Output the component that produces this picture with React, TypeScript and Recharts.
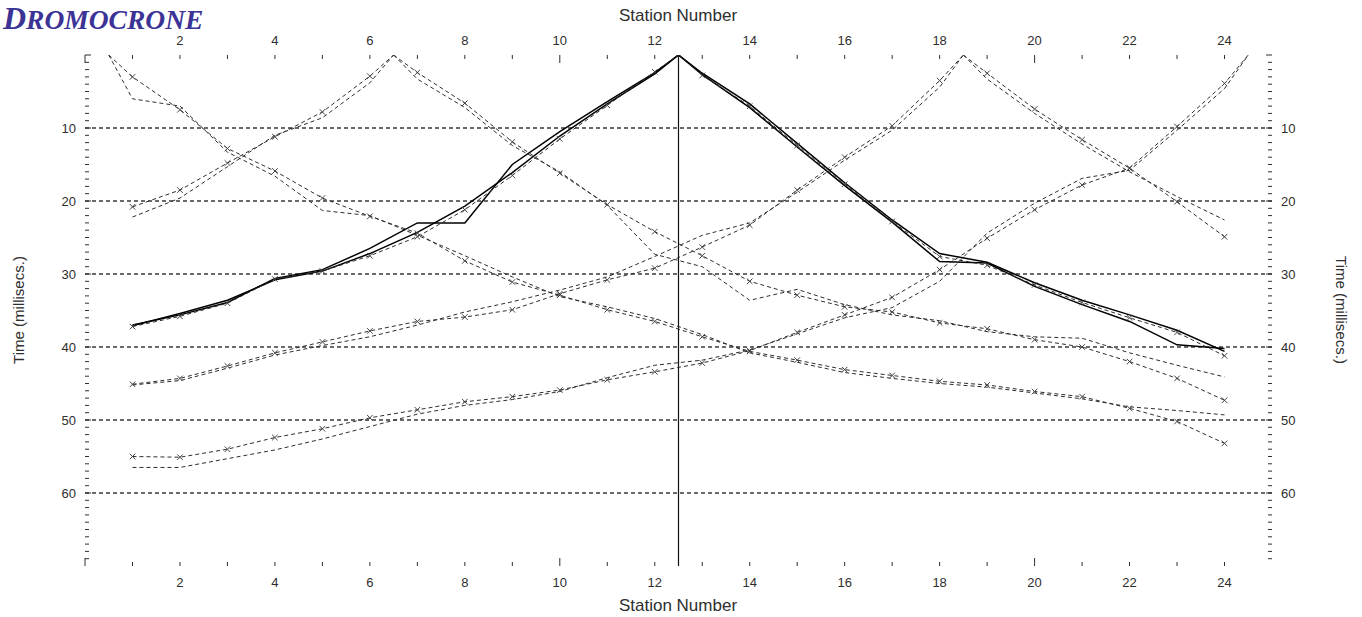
import { ComposedChart, Line, ReferenceLine, XAxis, YAxis } from "recharts"

// station numbers and shot (source) positions
const stations = [1, 2, 3, 4, 5, 6, 7, 8, 9, 10, 11, 12, 13, 14, 15, 16, 17, 18, 19, 20, 21, 22, 23, 24]
const shots = [0.5, 6.5, 12.5, 18.5, 24.5]

const stationTicks = [0, 1, 2, 3, 4, 5, 6, 7, 8, 9, 10, 11, 12, 13, 14, 15, 16, 17, 18, 19, 20, 21, 22, 23, 24]
const stationLabels = [2, 4, 6, 8, 10, 12, 14, 16, 18, 20, 22, 24]
const timeTicks = Array.from({ length: 70 }, (_, i) => i)
const timeLabels = [10, 20, 30, 40, 50, 60]

// travel times (ms), observed picks (x markers) and computed curves
const s05RightObs = [3.0, 7.5, 12.8, 15.9, 19.6, 22.1, 24.4, 28.2, 31.1, 32.9, 34.9, 36.5, 38.6, 40.6, 41.8, 43.1, 43.9, 44.7, 45.2, 46.1, 46.8, 48.4, 50.2, 53.2]
const s05RightCalc = [6.0, 7.0, 13.3, 16.6, 21.3, 22.0, 24.7, 27.5, 30.4, 33.1, 34.5, 36.1, 38.3, 40.8, 42.1, 43.5, 44.3, 45.0, 45.5, 46.3, 47.1, 48.2, 48.7, 49.3]

const s65LeftObs = [20.8, 18.5, 14.8, 11.2, 7.8, 2.9]
const s65LeftCalc = [22.2, 19.6, 15.3, 11.0, 8.6, 3.8]
const s65RightObs = [2.4, 6.6, 11.9, 16.2, 20.5, 24.2, 27.5, 31.0, 32.9, 34.5, 35.2, 36.7, 37.5, 39.0, 40.0, 42.0, 44.3, 47.3]
const s65RightCalc = [3.3, 7.2, 12.4, 16.0, 20.6, 27.3, 29.0, 33.6, 32.1, 34.2, 35.6, 36.4, 37.9, 38.6, 38.8, 40.8, 42.5, 44.1]

const s125LeftObs = [37.2, 35.8, 34.0, 30.7, 29.6, 27.5, 24.9, 21.2, 16.5, 11.5, 6.9, 2.3]
const s125LeftA = [37.1, 35.4, 33.6, 30.8, 29.6, 27.2, 24.3, 20.7, 16.1, 11.1, 6.7, 2.6]
const s125LeftB = [37.0, 35.6, 33.9, 30.6, 29.4, 26.5, 23.0, 23.0, 15.0, 10.5, 6.4, 2.4]
const s125RightObs = [2.8, 7.0, 12.4, 17.7, 22.8, 27.6, 28.8, 31.5, 33.9, 36.0, 38.0, 41.2]
const s125RightA = [2.5, 6.7, 12.1, 17.5, 22.6, 27.2, 28.4, 31.2, 33.6, 35.6, 37.7, 40.6]
const s125RightB = [2.7, 7.2, 12.6, 17.9, 22.9, 28.3, 28.5, 31.7, 34.2, 36.5, 39.7, 40.2]

const s185LeftObs = [45.1, 44.3, 42.6, 40.8, 39.3, 37.8, 36.5, 35.9, 34.9, 32.7, 30.8, 29.2, 26.3, 23.3, 18.5, 14.0, 9.7, 3.5]
const s185LeftCalc = [45.2, 44.6, 42.9, 41.1, 39.8, 38.6, 37.0, 35.2, 33.8, 32.2, 30.4, 27.6, 24.7, 23.0, 18.8, 14.4, 10.3, 4.4]
const s185RightObs = [2.5, 7.4, 11.6, 15.5, 20.1, 24.9]
const s185RightCalc = [3.3, 8.0, 12.2, 16.0, 19.4, 22.6]

const s245LeftObs = [55.0, 55.1, 54.0, 52.4, 51.2, 49.7, 48.6, 47.5, 46.8, 45.9, 44.5, 43.4, 42.2, 40.5, 38.0, 35.6, 33.2, 29.4, 25.1, 21.2, 17.8, 15.5, 9.8, 3.9]
const s245LeftCalc = [56.5, 56.5, 55.3, 54.1, 52.6, 50.9, 49.2, 48.0, 47.2, 46.1, 44.2, 42.5, 41.8, 40.4, 38.2, 36.0, 34.6, 31.0, 24.4, 20.3, 16.9, 15.8, 10.3, 4.6]

type Pt = { x: number; t: number; src?: boolean }

// a branch runs from the shot point (t = 0) out to the stations on one side
function leftBranch(shot: number, vals: number[]): Pt[] {
  const pts: Pt[] = stations.filter((s) => s < shot).map((s, i) => ({ x: s, t: vals[i] }))
  return [...pts, { x: shot, t: 0, src: true }]
}
function rightBranch(shot: number, vals: number[]): Pt[] {
  const pts: Pt[] = stations.filter((s) => s > shot).map((s, i) => ({ x: s, t: vals[i] }))
  return [{ x: shot, t: 0, src: true }, ...pts]
}

const observed = [
  rightBranch(shots[0], s05RightObs),
  leftBranch(shots[1], s65LeftObs),
  rightBranch(shots[1], s65RightObs),
  leftBranch(shots[2], s125LeftObs),
  rightBranch(shots[2], s125RightObs),
  leftBranch(shots[3], s185LeftObs),
  rightBranch(shots[3], s185RightObs),
  leftBranch(shots[4], s245LeftObs),
]
const computed = [
  rightBranch(shots[0], s05RightCalc),
  leftBranch(shots[1], s65LeftCalc),
  rightBranch(shots[1], s65RightCalc),
  leftBranch(shots[3], s185LeftCalc),
  rightBranch(shots[3], s185RightCalc),
  leftBranch(shots[4], s245LeftCalc),
]
const centre = [
  leftBranch(shots[2], s125LeftA),
  leftBranch(shots[2], s125LeftB),
  rightBranch(shots[2], s125RightA),
  rightBranch(shots[2], s125RightB),
]

const INK = "#2e2e2e"
const FONT = '"Liberation Sans", Arial, sans-serif'

function Cross(props: any) {
  const { cx, cy, payload, index } = props
  if (payload.src || cx == null) return <g key={index} />
  const r = 2.8
  return (
    <path
      key={index}
      d={`M${cx - r},${cy - r}L${cx + r},${cy + r}M${cx - r},${cy + r}L${cx + r},${cy - r}`}
      stroke="#444"
      strokeWidth={1}
      fill="none"
    />
  )
}

function StationTick(props: any) {
  const { x, y, payload, side } = props
  const v = payload.value
  const len = v % 10 === 0 ? 8 : 4
  const dir = side === "top" ? 1 : -1
  return (
    <g>
      <line x1={x} x2={x} y1={y} y2={y + dir * len} stroke={INK} strokeWidth={1} />
      {stationLabels.includes(v) && (
        <text
          x={x}
          y={side === "top" ? y - 15 : y + 16}
          textAnchor="middle"
          dominantBaseline="central"
          fontFamily={FONT}
          fontSize={13}
          fill={INK}
        >
          {v}
        </text>
      )}
    </g>
  )
}

function TimeTick(props: any) {
  const { x, y, payload, side } = props
  const v = payload.value
  const len = v % 10 === 0 ? 6 : 4
  const dir = side === "left" ? 1 : -1
  return (
    <g>
      <line x1={x} x2={x + dir * len} y1={y} y2={y} stroke={INK} strokeWidth={1} />
      {timeLabels.includes(v) && (
        <text
          x={side === "left" ? x - 9 : x + 9}
          y={y}
          textAnchor={side === "left" ? "end" : "start"}
          dominantBaseline="central"
          fontFamily={FONT}
          fontSize={13}
          fill={INK}
        >
          {v}
        </text>
      )}
    </g>
  )
}

export default function App() {
  return (
    <div style={{ position: "absolute", left: 0, top: 0, width: 1362, height: 617, background: "#fff" }}>
      <ComposedChart width={1362} height={617} margin={{ top: 0, right: 0, bottom: 0, left: 0 }}>
        <XAxis
          xAxisId="bottom"
          type="number"
          dataKey="x"
          domain={[0, 25]}
          ticks={stationTicks}
          interval={0}
          allowDataOverflow
          orientation="bottom"
          height={51}
          axisLine={false}
          tickLine={false}
          tickSize={0}
          tickMargin={0}
          tick={(p: any) => <StationTick {...p} side="bottom" />}
        />
        <XAxis
          xAxisId="top"
          type="number"
          dataKey="x"
          domain={[0, 25]}
          ticks={stationTicks}
          interval={0}
          allowDataOverflow
          orientation="top"
          height={55}
          axisLine={false}
          tickLine={false}
          tickSize={0}
          tickMargin={0}
          tick={(p: any) => <StationTick {...p} side="top" />}
        />
        <YAxis
          yAxisId="left"
          type="number"
          dataKey="t"
          domain={[0, 70]}
          reversed
          ticks={timeTicks}
          interval={0}
          allowDataOverflow
          width={85}
          axisLine={false}
          tickLine={false}
          tickSize={0}
          tickMargin={0}
          tick={(p: any) => <TimeTick {...p} side="left" />}
        />
        <YAxis
          yAxisId="right"
          orientation="right"
          type="number"
          domain={[0, 70]}
          reversed
          ticks={timeTicks}
          interval={0}
          allowDataOverflow
          width={90}
          axisLine={false}
          tickLine={false}
          tickSize={0}
          tickMargin={0}
          tick={(p: any) => <TimeTick {...p} side="right" />}
        />

        {timeLabels.map((v) => (
          <ReferenceLine
            key={`g${v}`}
            xAxisId="bottom"
            yAxisId="left"
            y={v}
            stroke="#3a3a3a"
            strokeWidth={1.5}
            strokeDasharray="4 3"
          />
        ))}
        <ReferenceLine xAxisId="top" yAxisId="left" x={shots[2]} stroke="#111" strokeWidth={1.2} />

        {computed.map((d, i) => (
          <Line
            key={`c${i}`}
            xAxisId="top"
            yAxisId="left"
            data={d}
            dataKey="t"
            type="linear"
            stroke={INK}
            strokeWidth={1}
            strokeDasharray="4 3"
            dot={false}
            activeDot={false}
            isAnimationActive={false}
          />
        ))}
        {centre.map((d, i) => (
          <Line
            key={`s${i}`}
            xAxisId="bottom"
            yAxisId="left"
            data={d}
            dataKey="t"
            type="linear"
            stroke="#000"
            strokeWidth={1.5}
            dot={false}
            activeDot={false}
            isAnimationActive={false}
          />
        ))}
        {observed.map((d, i) => (
          <Line
            key={`o${i}`}
            xAxisId="bottom"
            yAxisId="left"
            data={d}
            dataKey="t"
            type="linear"
            stroke={INK}
            strokeWidth={1}
            strokeDasharray="4 3"
            dot={Cross}
            activeDot={false}
            isAnimationActive={false}
          />
        ))}
      </ComposedChart>

      <svg width={1362} height={617} style={{ position: "absolute", left: 0, top: 0, pointerEvents: "none" }}>
        <text x={678} y={15} textAnchor="middle" dominantBaseline="central" fontFamily={FONT} fontSize={17} fill={INK}>
          Station Number
        </text>
        <text x={678} y={605} textAnchor="middle" dominantBaseline="central" fontFamily={FONT} fontSize={17} fill={INK}>
          Station Number
        </text>
        <text
          x={18}
          y={310}
          transform="rotate(-90 18 310)"
          textAnchor="middle"
          dominantBaseline="central"
          fontFamily={FONT}
          fontSize={15}
          fill={INK}
        >
          Time (millisecs.)
        </text>
        <text
          x={1341}
          y={310}
          transform="rotate(90 1341 310)"
          textAnchor="middle"
          dominantBaseline="central"
          fontFamily={FONT}
          fontSize={15}
          fill={INK}
        >
          Time (millisecs.)
        </text>
      </svg>

      <div
        style={{
          position: "absolute",
          left: 3,
          top: 0,
          fontFamily: '"Liberation Serif", "Times New Roman", serif',
          fontWeight: "bold",
          fontStyle: "italic",
          color: "#3b3395",
          fontSize: 32,
          lineHeight: "normal",
          whiteSpace: "nowrap",
        }}
      >
        D<span style={{ fontSize: 27.5 }}>ROMOCRONE</span>
      </div>
    </div>
  )
}
